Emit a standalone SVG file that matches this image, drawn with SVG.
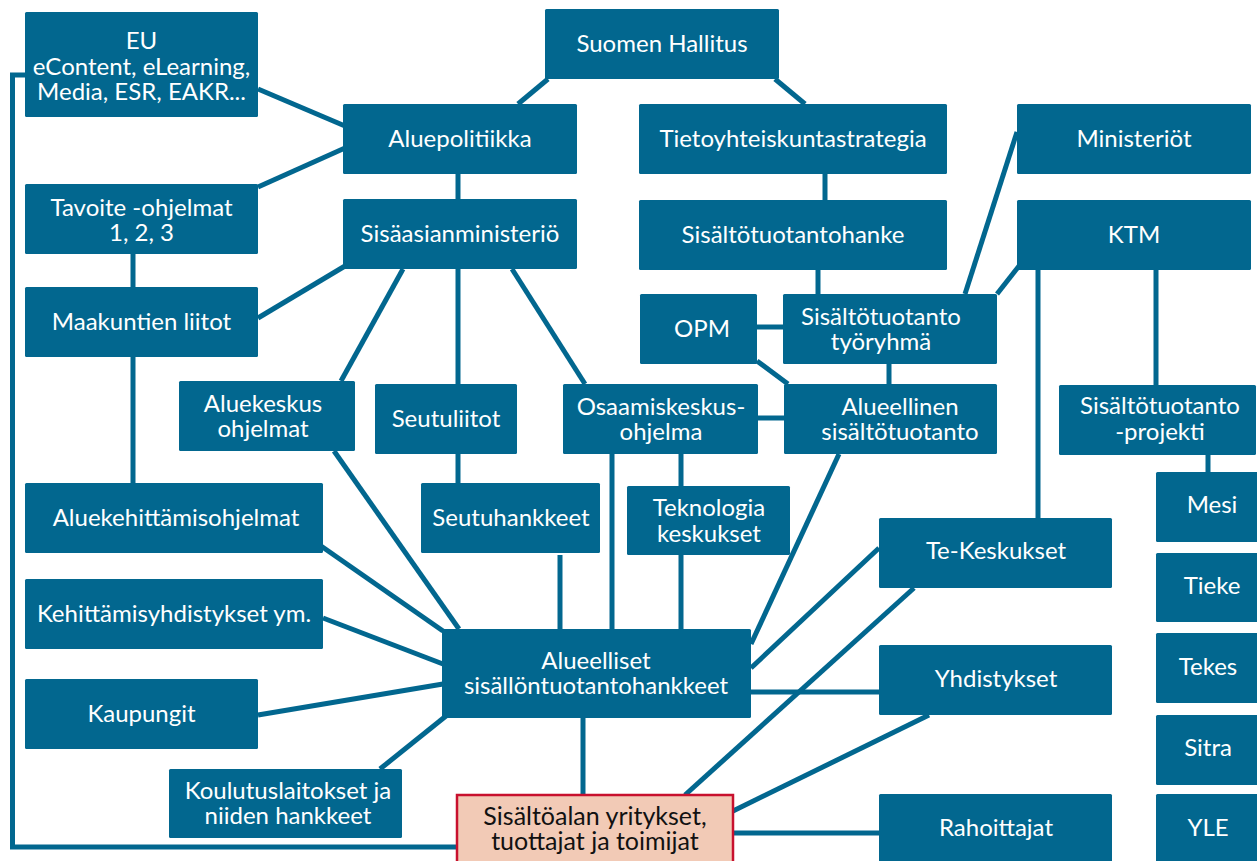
<svg xmlns="http://www.w3.org/2000/svg" width="1257" height="861" viewBox="0 0 1257 861">
<style>
.b{fill:#02678f;}
.t{font-family:Lato,"Open Sans","Liberation Sans",sans-serif;font-size:24px;fill:#fff;text-anchor:middle;}
.k{fill:#111;font-size:25px;}
.c line,.c polyline{stroke:#02678f;stroke-width:5;fill:none;}
</style>
<rect width="1257" height="861" fill="#fff"/>
<g class="c" id="connectors">
<polyline points="25,75 12.5,75 12.5,847 457,847"/>
<line x1="258" y1="89" x2="345" y2="126"/>
<line x1="258" y1="187" x2="345" y2="148"/>
<line x1="133" y1="254" x2="133" y2="287"/>
<line x1="258" y1="318" x2="345" y2="266"/>
<line x1="133" y1="357" x2="133" y2="483"/>
<line x1="548" y1="79" x2="518" y2="104"/>
<line x1="775" y1="79" x2="805" y2="104"/>
<line x1="458" y1="174" x2="458" y2="199"/>
<line x1="403" y1="269" x2="341" y2="381"/>
<line x1="458" y1="269" x2="458" y2="384"/>
<line x1="512" y1="269" x2="585" y2="384"/>
<line x1="825" y1="174" x2="825" y2="200"/>
<line x1="818" y1="270" x2="818" y2="294"/>
<line x1="1017" y1="132" x2="965" y2="294"/>
<line x1="1019" y1="266" x2="997" y2="294"/>
<line x1="1038" y1="270" x2="1038" y2="518"/>
<line x1="1156" y1="270" x2="1156" y2="385"/>
<line x1="1208" y1="455" x2="1208" y2="472"/>
<line x1="757" y1="327" x2="783" y2="327"/>
<line x1="757" y1="361" x2="788" y2="384"/>
<line x1="889" y1="364" x2="889" y2="384"/>
<line x1="758" y1="418" x2="784" y2="418"/>
<line x1="681" y1="454" x2="681" y2="629"/>
<line x1="612" y1="454" x2="612" y2="629"/>
<line x1="458" y1="454" x2="458" y2="483"/>
<line x1="560" y1="555" x2="560" y2="629"/>
<line x1="839" y1="454" x2="751" y2="644"/>
<line x1="334" y1="451" x2="459" y2="629"/>
<line x1="321" y1="546" x2="443" y2="631"/>
<line x1="323" y1="618" x2="443" y2="664"/>
<line x1="258" y1="715" x2="443" y2="684"/>
<line x1="380" y1="769" x2="446" y2="716"/>
<line x1="583" y1="718" x2="583" y2="795"/>
<line x1="879" y1="548" x2="751" y2="668"/>
<line x1="914" y1="588" x2="685" y2="795"/>
<line x1="751" y1="692" x2="879" y2="692"/>
<line x1="929" y1="715" x2="733" y2="811"/>
<line x1="733" y1="833" x2="879" y2="833"/>
</g>
<g id="eu"><rect class="b" x="25" y="12" width="233" height="105" rx="1.5"/><text class="t" x="141.5" y="49">EU<tspan x="141.5" dy="26">eContent, eLearning,</tspan><tspan x="141.5" dy="25">Media, ESR, EAKR...</tspan></text></g>
<g id="hallitus"><rect class="b" x="545" y="9" width="234" height="70" rx="1.5"/><text class="t" x="662" y="52">Suomen Hallitus</text></g>
<g id="aluepolitiikka"><rect class="b" x="343" y="104" width="234" height="70" rx="1.5"/><text class="t" x="460" y="147">Aluepolitiikka</text></g>
<g id="tieto"><rect class="b" x="639" y="104" width="308" height="70" rx="1.5"/><text class="t" x="793" y="147">Tietoyhteiskuntastrategia</text></g>
<g id="ministeriot"><rect class="b" x="1017" y="104" width="234" height="70" rx="1.5"/><text class="t" x="1134" y="147">Ministeriöt</text></g>
<g id="tavoite"><rect class="b" x="25" y="184" width="233" height="70" rx="1.5"/><text class="t" x="141.5" y="216">Tavoite -ohjelmat<tspan x="141.5" dy="25">1, 2, 3</tspan></text></g>
<g id="sisaasiain"><rect class="b" x="343" y="199" width="234" height="70" rx="1.5"/><text class="t" x="460" y="242">Sisäasianministeriö</text></g>
<g id="hanke"><rect class="b" x="639" y="200" width="308" height="70" rx="1.5"/><text class="t" x="793" y="243">Sisältötuotantohanke</text></g>
<g id="ktm"><rect class="b" x="1017" y="200" width="234" height="70" rx="1.5"/><text class="t" x="1134" y="243">KTM</text></g>
<g id="maakuntien"><rect class="b" x="25" y="287" width="233" height="70" rx="1.5"/><text class="t" x="141.5" y="330">Maakuntien liitot</text></g>
<g id="opm"><rect class="b" x="640" y="294" width="117" height="70" rx="1.5"/><text class="t" x="702" y="337">OPM</text></g>
<g id="tyoryhma"><rect class="b" x="783" y="294" width="214" height="70" rx="1.5"/><text class="t" x="881" y="325">Sisältötuotanto<tspan x="881" dy="25">työryhmä</tspan></text></g>
<g id="aluekeskus"><rect class="b" x="179" y="381" width="176" height="70" rx="1.5"/><text class="t" x="263" y="412">Aluekeskus<tspan x="263" dy="25">ohjelmat</tspan></text></g>
<g id="seutuliitot"><rect class="b" x="375" y="384" width="142" height="70" rx="1.5"/><text class="t" x="446" y="427">Seutuliitot</text></g>
<g id="osaamis"><rect class="b" x="563" y="384" width="195" height="70" rx="1.5"/><text class="t" x="661" y="415">Osaamiskeskus-<tspan x="661" dy="25">ohjelma</tspan></text></g>
<g id="alueellinen"><rect class="b" x="784" y="384" width="213" height="70" rx="1.5"/><text class="t" x="900" y="415">Alueellinen<tspan x="900" dy="25">sisältötuotanto</tspan></text></g>
<g id="projekti"><rect class="b" x="1059" y="385" width="197" height="70" rx="1.5"/><text class="t" x="1160" y="414">Sisältötuotanto<tspan x="1160" dy="26">-projekti</tspan></text></g>
<g id="aluekehittamis"><rect class="b" x="25" y="483" width="298" height="70" rx="1.5"/><text class="t" x="176" y="526">Aluekehittämisohjelmat</text></g>
<g id="seutuhankkeet"><rect class="b" x="421" y="483" width="179" height="70" rx="1.5"/><text class="t" x="511" y="526">Seutuhankkeet</text></g>
<g id="teknologia"><rect class="b" x="627" y="486" width="163" height="69" rx="1.5"/><text class="t" x="709" y="516">Teknologia<tspan x="709" dy="26">keskukset</tspan></text></g>
<g id="mesi"><rect class="b" x="1156" y="472" width="110" height="70" rx="1.5"/><text class="t" x="1212" y="513">Mesi</text></g>
<g id="tekeskukset"><rect class="b" x="879" y="518" width="233" height="70" rx="1.5"/><text class="t" x="996" y="559">Te-Keskukset</text></g>
<g id="tieke"><rect class="b" x="1156" y="553" width="110" height="69" rx="1.5"/><text class="t" x="1212" y="594">Tieke</text></g>
<g id="kehittamisyhd"><rect class="b" x="25" y="579" width="298" height="70" rx="1.5"/><text class="t" x="174" y="622">Kehittämisyhdistykset ym.</text></g>
<g id="alueelliset"><rect class="b" x="442" y="629" width="309" height="89" rx="1.5"/><text class="t" x="596" y="669">Alueelliset<tspan x="596" dy="25">sisällöntuotantohankkeet</tspan></text></g>
<g id="yhdistykset"><rect class="b" x="879" y="645" width="233" height="70" rx="1.5"/><text class="t" x="996" y="687">Yhdistykset</text></g>
<g id="tekes"><rect class="b" x="1156" y="633" width="110" height="70" rx="1.5"/><text class="t" x="1208" y="675">Tekes</text></g>
<g id="kaupungit"><rect class="b" x="25" y="679" width="233" height="70" rx="1.5"/><text class="t" x="141.5" y="722">Kaupungit</text></g>
<g id="sitra"><rect class="b" x="1156" y="715" width="110" height="70" rx="1.5"/><text class="t" x="1208" y="756">Sitra</text></g>
<g id="koulutus"><rect class="b" x="169" y="769" width="233" height="69" rx="1.5"/><text class="t" x="288" y="799">Koulutuslaitokset ja<tspan x="288" dy="25">niiden hankkeet</tspan></text></g>
<g id="yritykset"><rect x="457" y="795" width="276" height="80" fill="#f2cab6" stroke="#c8102e" stroke-width="2.5"/><text class="t k" x="595" y="825">Sisältöalan yritykset,<tspan x="595" dy="25">tuottajat ja toimijat</tspan></text></g>
<g id="rahoittajat"><rect class="b" x="879" y="794" width="233" height="80" rx="1.5"/><text class="t" x="996" y="836">Rahoittajat</text></g>
<g id="yle"><rect class="b" x="1156" y="794" width="110" height="80" rx="1.5"/><text class="t" x="1208" y="836">YLE</text></g>
</svg>
